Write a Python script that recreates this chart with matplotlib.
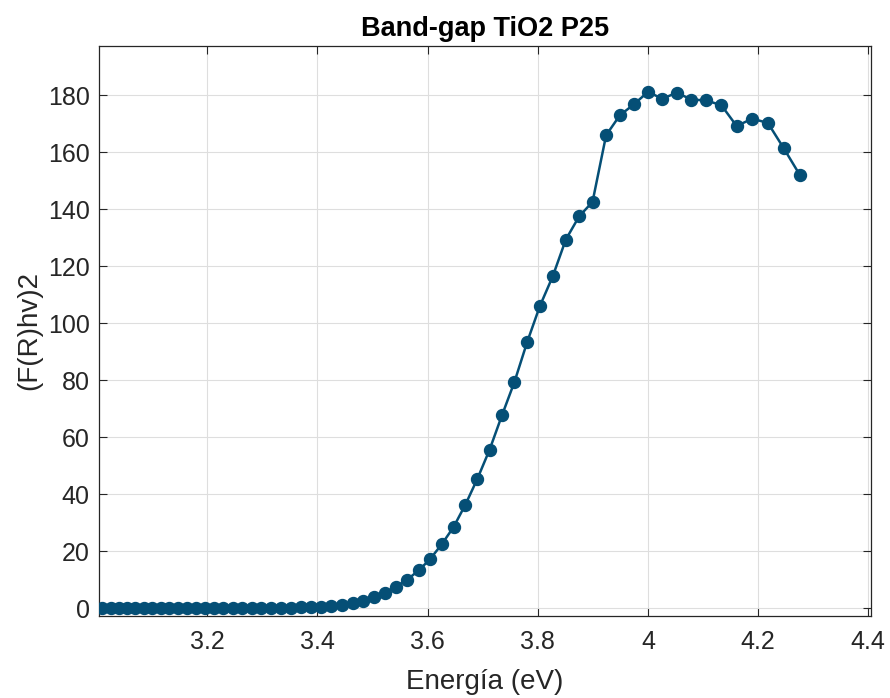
import numpy as np
import matplotlib
matplotlib.use("Agg")
import matplotlib.pyplot as plt

# Wavelengths (nm) -> photon energy (eV)
wavelength_nm = np.arange(290, 414, 2)
energy_ev = 1240.0 / wavelength_nm

# (F(R)hv)^2 values, in order of wavelength 290, 292, ... 412 nm
fr_hv2 = [
    152.0, 161.4, 170.3, 171.8, 169.2, 176.5, 178.2, 178.5, 180.9, 178.8,
    181.2, 176.8, 173.0, 166.0, 142.6, 137.5, 129.4, 116.5, 106.0, 93.3,
    79.4, 67.7, 55.7, 45.5, 36.4, 28.5, 22.5, 17.3, 13.3, 10.1,
    7.6, 5.5, 3.9, 2.6, 1.75, 1.2, 0.9, 0.6, 0.45, 0.35,
    0.28, 0.22, 0.18, 0.15, 0.13, 0.11, 0.10, 0.09, 0.08, 0.07,
    0.06, 0.06, 0.05, 0.05, 0.04, 0.04, 0.04, 0.03, 0.03, 0.03,
    0.03, 0.02,
]

x_ticks = [3.2, 3.4, 3.6, 3.8, 4.0, 4.2, 4.4]
x_tick_labels = ["3.2", "3.4", "3.6", "3.8", "4", "4.2", "4.4"]
y_ticks = [0, 20, 40, 60, 80, 100, 120, 140, 160, 180]

plt.rcParams['font.family'] = ['Liberation Sans', 'DejaVu Sans']

fig = plt.figure(figsize=(8.9, 6.98), dpi=100)
ax = fig.add_axes([99.3 / 890, (698 - 616) / 698, (870.7 - 99.3) / 890, (616 - 45.7) / 698])

line_color = "#054f76"
ax.plot(energy_ev, fr_hv2, color=line_color, linewidth=1.8, marker="o",
        markersize=8.6, markerfacecolor=line_color, markeredgecolor=line_color, zorder=3)

ax.set_xlim(3.0039, 4.4044)
ax.set_ylim(-2.7, 197.4)
ax.set_xticks(x_ticks)
ax.set_xticklabels(x_tick_labels)
ax.set_yticks(y_ticks)

tc = "#262626"
ax.grid(True, color="#dedede", linewidth=0.8, zorder=0)
ax.set_axisbelow(True)
ax.tick_params(direction="in", length=6, width=0.8, colors=tc, labelsize=18,
               top=True, right=True)
ax.tick_params(axis="x", pad=10)
ax.tick_params(axis="y", pad=7)
for s in ax.spines.values():
    s.set_color(tc)
    s.set_linewidth(0.9)

ax.set_xlabel("Energía (eV)", fontsize=20, color=tc, labelpad=11)
ax.set_ylabel("(F(R)hv)2", fontsize=20, color=tc, labelpad=4)
ax.set_title("Band-gap TiO2 P25", fontsize=19.5, fontweight="bold", color="black", pad=7)

fig.savefig("out.png", dpi=100)
